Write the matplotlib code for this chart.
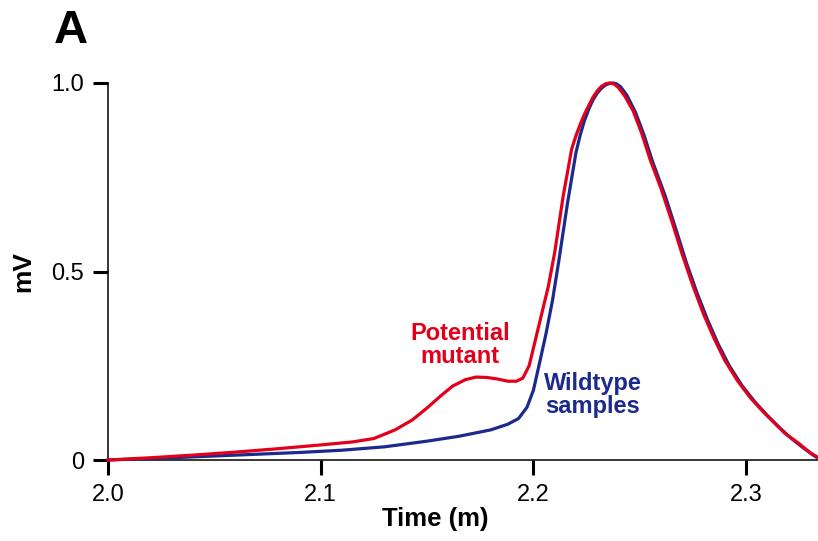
import matplotlib.pyplot as plt

plt.rcParams['font.family'] = ['Liberation Sans', 'DejaVu Sans']

# Chromatogram traces (time in minutes, signal in mV)
mutant_t = [2.000, 2.020, 2.040, 2.060, 2.080, 2.100, 2.115, 2.125, 2.135, 2.143,
            2.150, 2.156, 2.162, 2.168, 2.173, 2.178, 2.183, 2.188, 2.192, 2.195,
            2.198, 2.201, 2.204, 2.207, 2.210, 2.214, 2.218, 2.220, 2.222, 2.224,
            2.226, 2.228, 2.230, 2.232, 2.234, 2.236, 2.238, 2.240, 2.243, 2.247,
            2.251, 2.255, 2.260, 2.265, 2.270, 2.275, 2.280, 2.285, 2.290, 2.296,
            2.302, 2.308, 2.313, 2.318, 2.325, 2.330, 2.334]
mutant_v = [0.000, 0.006, 0.013, 0.021, 0.030, 0.040, 0.048, 0.057, 0.080, 0.106,
            0.138, 0.168, 0.196, 0.213, 0.220, 0.219, 0.215, 0.209, 0.209, 0.217,
            0.250, 0.320, 0.390, 0.460, 0.550, 0.700, 0.825, 0.860, 0.890, 0.917,
            0.940, 0.962, 0.979, 0.991, 0.998, 1.000, 0.997, 0.988, 0.965, 0.925,
            0.865, 0.795, 0.720, 0.635, 0.545, 0.462, 0.387, 0.322, 0.264, 0.210,
            0.165, 0.128, 0.100, 0.072, 0.043, 0.020, 0.006]

wild_t = [2.000, 2.030, 2.060, 2.090, 2.110, 2.130, 2.150, 2.165, 2.180, 2.188,
          2.193, 2.197, 2.200, 2.203, 2.206, 2.209, 2.212, 2.216, 2.220, 2.222,
          2.224, 2.226, 2.228, 2.230, 2.232, 2.234, 2.236, 2.2375, 2.239, 2.241,
          2.244, 2.248, 2.252, 2.256, 2.262, 2.267, 2.272, 2.277, 2.282, 2.287,
          2.292, 2.298, 2.304, 2.310, 2.315, 2.320, 2.326, 2.331, 2.334]
wild_v = [0.000, 0.006, 0.013, 0.020, 0.026, 0.035, 0.050, 0.063, 0.080, 0.095,
          0.110, 0.140, 0.185, 0.260, 0.337, 0.424, 0.530, 0.680, 0.815, 0.862,
          0.900, 0.930, 0.955, 0.973, 0.986, 0.995, 0.999, 1.000, 0.998, 0.990,
          0.967, 0.922, 0.862, 0.792, 0.700, 0.612, 0.522, 0.442, 0.370, 0.306,
          0.251, 0.198, 0.155, 0.118, 0.090, 0.063, 0.036, 0.015, 0.004]

x_ticks = [2.0, 2.1, 2.2, 2.3]
x_labels = ['2.0', '2.1', '2.2', '2.3']
y_ticks = [0, 0.5, 1.0]
y_labels = ['0', '0.5', '1.0']

red = '#E2001A'
blue = '#1B2A8C'

fig = plt.figure(figsize=(8.18, 5.41), dpi=100)
ax = fig.add_axes([0.132, 0.1497, 0.868, 0.6969])

ax.plot(wild_t, wild_v, color=blue, lw=2.3, clip_on=False, zorder=3)
ax.plot(mutant_t, mutant_v, color=red, lw=2.3, clip_on=False, zorder=4)

ax.set_xlim(2.0, 2.3338)
ax.set_ylim(0, 1.0)
ax.set_xticks(x_ticks)
ax.set_xticklabels(x_labels)
ax.set_yticks(y_ticks)
ax.set_yticklabels(y_labels)

for side in ['top', 'right']:
    ax.spines[side].set_visible(False)
for side in ['left', 'bottom']:
    ax.spines[side].set_linewidth(1.1)
ax.tick_params(axis='both', direction='out', length=11, width=2.2,
               labelsize=17, pad=6)

ax.text(2.1655, 0.305, 'Potential\nmutant', color=red, fontsize=17,
        fontweight='bold', ha='center', va='center', linespacing=1.0)
ax.text(2.228, 0.172, 'Wildtype\nsamples', color=blue, fontsize=17,
        fontweight='bold', ha='center', va='center', linespacing=1.0)

fig.text(435 / 818, 1 - 519 / 541, 'Time (m)', fontsize=18.5, fontweight='bold',
         ha='center', va='center')
fig.text(23 / 818, 1 - 271 / 541, 'mV', fontsize=19, fontweight='bold',
         ha='center', va='center', rotation=90)
fig.text(71 / 818, 1 - 31 / 541, 'A', fontsize=34, fontweight='bold',
         ha='center', va='center')

fig.savefig('out.png', dpi=100)
